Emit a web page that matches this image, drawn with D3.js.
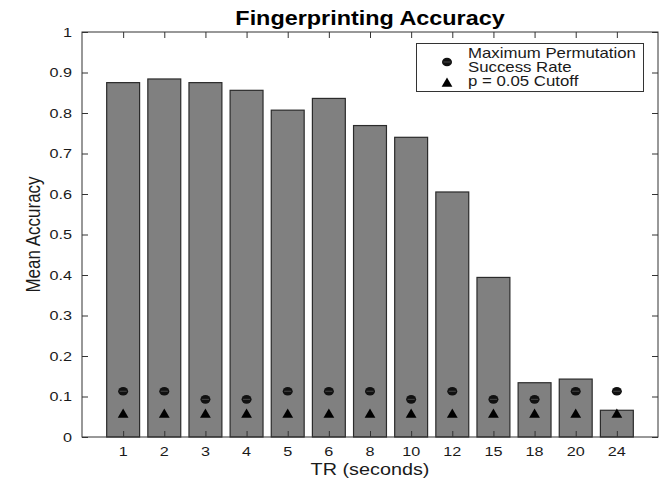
<!DOCTYPE html>
<html>
<head>
<meta charset="utf-8">
<script src="https://cdn.jsdelivr.net/npm/d3@7"></script>
<style>
  html, body { margin: 0; padding: 0; background: #fff; }
  svg { display: block; font-family: "Liberation Sans", Arial, Helvetica, sans-serif; }
</style>
</head>
<body>
<svg id="chart" width="669" height="480"></svg>
<script>
// Repetition times (seconds) used as bar categories
const categories = ["1", "2", "3", "4", "5", "6", "8", "10", "12", "15", "18", "20", "24"];
// Mean fingerprinting accuracy per TR
const meanAccuracy = [0.875, 0.884, 0.875, 0.856, 0.807, 0.836, 0.769, 0.740, 0.605, 0.394, 0.134, 0.143, 0.066];
// Maximum success rate over permutations
const maxPermutation = [0.113, 0.113, 0.093, 0.093, 0.113, 0.113, 0.113, 0.093, 0.113, 0.093, 0.093, 0.113, 0.113];
// p = 0.05 significance cutoff
const pCutoff = [0.058, 0.058, 0.058, 0.058, 0.058, 0.058, 0.058, 0.058, 0.058, 0.058, 0.058, 0.058, 0.058];
const yTicks = [0, 0.1, 0.2, 0.3, 0.4, 0.5, 0.6, 0.7, 0.8, 0.9, 1];

const svg = d3.select("#chart");
const plot = { left: 82, right: 658, top: 32, bottom: 437 };
const textColor = "#1a1a1a";
const sx = 1.2; // horizontal widening of the figure's glyphs and markers

// Positions 1..13 on a 0..14 linear axis, bars 0.8 units wide
const x = d3.scaleLinear().domain([0, categories.length + 1]).range([plot.left, plot.right]);
const y = d3.scaleLinear().domain([0, 1]).range([plot.bottom, plot.top]);
const barW = x(0.8) - x(0);

// Text placed at an anchor point, widened horizontally
function label(g, tx, ty, str, size, opts = {}) {
  return g.append("text")
    .attr("transform", `translate(${tx},${ty}) scale(${sx},1)` + (opts.rotate ? ` rotate(${opts.rotate})` : ""))
    .attr("text-anchor", opts.anchor || "start")
    .attr("fill", opts.color || textColor)
    .style("font-size", size + "px")
    .style("font-weight", opts.weight || "normal")
    .text(str);
}

// Bars
svg.append("g").selectAll("rect").data(meanAccuracy).join("rect")
  .attr("x", (d, i) => x(i + 1) - barW / 2)
  .attr("y", d => y(d))
  .attr("width", barW)
  .attr("height", d => y(0) - y(d))
  .attr("fill", "#808080")
  .attr("stroke", "#2b2b2b")
  .attr("stroke-width", 1.2);

// Axis frame with inward ticks on all four sides
const tickLen = 6;
svg.append("rect")
  .attr("x", plot.left).attr("y", plot.top)
  .attr("width", plot.right - plot.left).attr("height", plot.bottom - plot.top)
  .attr("fill", "none").attr("stroke", "#333").attr("stroke-width", 1);

const catIdx = categories.map((c, i) => i + 1);
const axes = [
  svg.append("g").attr("transform", `translate(${plot.left},0)`)
    .call(d3.axisLeft(y).tickValues(yTicks).tickSize(-tickLen).tickFormat("")),
  svg.append("g").attr("transform", `translate(${plot.right},0)`)
    .call(d3.axisRight(y).tickValues(yTicks).tickSize(-tickLen).tickFormat("")),
  svg.append("g").attr("transform", `translate(0,${plot.bottom})`)
    .call(d3.axisBottom(x).tickValues(catIdx).tickSize(-tickLen).tickFormat("")),
  svg.append("g").attr("transform", `translate(0,${plot.top})`)
    .call(d3.axisTop(x).tickValues(catIdx).tickSize(-tickLen).tickFormat(""))
];
axes.forEach(g => {
  g.select(".domain").remove();
  g.selectAll(".tick line").attr("stroke", "#333");
  g.selectAll(".tick text").remove();
});

// Tick labels, positioned from the same scales
const tickFmt = d => (d === 0 || d === 1) ? d3.format("d")(d) : d3.format(".1f")(d);
const tl = svg.append("g");
yTicks.forEach(t => label(tl, plot.left - 10, y(t) + 4.8, tickFmt(t), 13.5, { anchor: "end" }));
categories.forEach((c, i) => label(tl, x(i + 1), 456, c, 13.5, { anchor: "middle" }));

// Triangle markers (p = 0.05 cutoff)
const triPath = "M0,-5 L5.4,4.2 L-5.4,4.2 Z";
svg.append("g").selectAll("path").data(pCutoff).join("path")
  .attr("transform", (d, i) => `translate(${x(i + 1)},${y(d)})`)
  .attr("d", triPath)
  .attr("fill", "#000");

// Circle markers (maximum permutation success rate)
function drawDot(g, cx, cy) {
  g.append("ellipse").attr("cx", cx).attr("cy", cy).attr("rx", 5).attr("ry", 4.3)
    .attr("fill", "#111");
  g.append("line").attr("x1", cx - 3.6).attr("x2", cx + 3.6).attr("y1", cy).attr("y2", cy)
    .attr("stroke", "#555").attr("stroke-width", 0.8);
}
const dots = svg.append("g");
maxPermutation.forEach((d, i) => drawDot(dots, x(i + 1), y(d)));

// Legend
const lg = svg.append("g");
lg.append("rect").attr("x", 416.5).attr("y", 43.5).attr("width", 227).attr("height", 48)
  .attr("fill", "#fff").attr("stroke", "#333").attr("stroke-width", 1);
drawDot(lg, 447, 62);
lg.append("path").attr("transform", "translate(447,82.5)").attr("d", triPath).attr("fill", "#000");
label(lg, 468, 57.5, "Maximum Permutation", 14);
label(lg, 468, 71.5, "Success Rate", 14);
label(lg, 468, 85.5, "p = 0.05 Cutoff", 14);

// Title and axis labels
label(svg, (plot.left + plot.right) / 2, 24.5, "Fingerprinting Accuracy", 19.5,
  { anchor: "middle", weight: "bold", color: "#000" });
label(svg, (plot.left + plot.right) / 2, 474.5, "TR (seconds)", 16.5, { anchor: "middle" });
label(svg, 40, (plot.top + plot.bottom) / 2, "Mean Accuracy", 17, { anchor: "middle", rotate: -90 });
</script>
</body>
</html>
